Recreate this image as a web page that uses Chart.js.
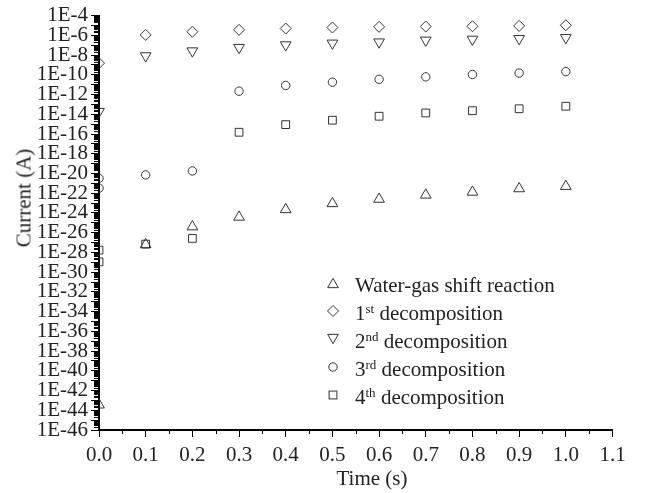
<!DOCTYPE html>
<html>
<head>
<meta charset="utf-8">
<script src="https://cdn.jsdelivr.net/npm/chart.js@4.4.1/dist/chart.umd.min.js"></script>
<style>
  body { margin: 0; background: #fff; }
  #wrap { position: relative; width: 654px; height: 493px; font-family: 'Liberation Serif', 'Times New Roman', serif; color: #222; }
  .axis-title { position: absolute; font-size: 21px; white-space: nowrap; }
  #ytitle { left: 24px; top: 198px; transform: translate(-50%, -50%) rotate(-90deg); }
  #xtitle { left: 372px; top: 478px; transform: translate(-50%, -50%); }
  .legend-row { position: absolute; left: 325px; height: 28px; line-height: 28px; font-size: 21px; white-space: nowrap; }
  .legend-row svg { position: absolute; left: 0; top: 4px; }
  .legend-row span { position: absolute; left: 30px; top: 0; }
  sup { font-size: 13px; line-height: 0; vertical-align: 7px; }
</style>
</head>
<body>
<div id="wrap">
  <canvas id="chart" width="654" height="493"></canvas>
  <div class="axis-title" id="ytitle">Current (A)</div>
  <div class="axis-title" id="xtitle">Time (s)</div>
  <div id="legend"></div>
</div>
<script>
// time axis ticks and labelled current decades
const xTicks = [0, 0.1, 0.2, 0.3, 0.4, 0.5, 0.6, 0.7, 0.8, 0.9, 1.0, 1.1];
const yDecades = [-46, -45, -44, -43, -42, -41, -40, -39, -38, -37, -36, -35, -34, -33, -32, -31, -30, -29, -28, -27, -26, -25,
  -24, -23, -22, -21, -20, -19, -18, -17, -16, -15, -14, -13, -12, -11, -10, -9, -8, -7, -6, -5, -4];

const time = [0, 0.1, 0.2, 0.3, 0.4, 0.5, 0.6, 0.7, 0.8, 0.9, 1.0];
const waterGas = [3.5e-44, 6.2e-28, 4.0e-26, 3.8e-25, 2.2e-24, 8.9e-24, 2.5e-23, 6.6e-23, 1.3e-22, 2.9e-22, 5.0e-22];
const decomp1 = [1.5e-9, 1.1e-6, 2.3e-6, 3.6e-6, 4.9e-6, 6.2e-6, 7.2e-6, 7.8e-6, 8.3e-6, 9.1e-6, 1.05e-5];
const decomp2 = [1.9e-14, 8.3e-9, 2.6e-8, 5.8e-8, 1.07e-7, 1.6e-7, 2.1e-7, 3.2e-7, 4.0e-7, 4.6e-7, 5.8e-7];
const decomp3Time = [0, 0, 0.1, 0.2, 0.3, 0.4, 0.5, 0.6, 0.7, 0.8, 0.9, 1.0];
const decomp3 = [3.2e-21, 3.2e-22, 7.2e-21, 1.8e-20, 2.2e-12, 8.3e-12, 1.8e-11, 3.5e-11, 6.2e-11, 1.07e-10, 1.5e-10, 2.1e-10];
const decomp4Time = [0, 0, 0.1, 0.2, 0.3, 0.4, 0.5, 0.6, 0.7, 0.8, 0.9, 1.0];
const decomp4 = [1.7e-28, 1.1e-29, 6.9e-28, 2.6e-27, 1.5e-16, 8.9e-16, 2.5e-15, 6.3e-15, 1.35e-14, 2.3e-14, 3.6e-14, 6.5e-14];

const legendLabels = [
  'Water-gas shift reaction',
  '1<sup>st</sup> decomposition',
  '2<sup>nd</sup> decomposition',
  '3<sup>rd</sup> decomposition',
  '4<sup>th</sup> decomposition'
];

const markerColor = '#333';

function points(xs, ys) {
  return xs.map((x, i) => ({ x: x, y: ys[i] }));
}

function series(label, xs, ys, style, radius, rotation) {
  return {
    label: label,
    data: points(xs, ys),
    showLine: false,
    pointStyle: style,
    pointRadius: radius,
    pointRotation: rotation || 0,
    pointBorderWidth: 1,
    pointBorderColor: markerColor,
    pointBackgroundColor: 'rgba(0,0,0,0)',
    borderColor: markerColor,
    backgroundColor: 'rgba(0,0,0,0)'
  };
}

// short minor ticks: 2..9 inside each decade, half steps on time
const minorTicks = {
  id: 'minorTicks',
  beforeDatasetsDraw(chart) {
    const { ctx, scales: { x, y } } = chart;
    ctx.save();
    ctx.strokeStyle = '#000';
    ctx.lineWidth = 1;
    ctx.beginPath();
    for (let i = 0; i < yDecades.length - 1; i++) {
      for (let m = 2; m <= 9; m++) {
        const py = Math.round(y.getPixelForValue(m * Number('1e' + yDecades[i]))) + 0.5;
        ctx.moveTo(y.right - 5, py);
        ctx.lineTo(y.right, py);
      }
    }
    for (let i = 0; i < xTicks.length - 1; i++) {
      const px = Math.round(x.getPixelForValue((xTicks[i] + xTicks[i + 1]) / 2)) + 0.5;
      ctx.moveTo(px, x.top);
      ctx.lineTo(px, x.top + 4);
    }
    ctx.stroke();
    ctx.restore();
  }
};

Chart.defaults.font.family = "'Liberation Serif', 'Times New Roman', serif";
Chart.defaults.font.size = 21;
Chart.defaults.color = '#222';

new Chart(document.getElementById('chart'), {
  type: 'scatter',
  data: {
    datasets: [
      series('Water-gas shift reaction', time, waterGas, 'triangle', 6.2),
      series('1st decomposition', time, decomp1, 'rectRot', 5.5),
      series('2nd decomposition', time, decomp2, 'triangle', 6.2, 180),
      series('3rd decomposition', decomp3Time, decomp3, 'circle', 4.2),
      series('4th decomposition', decomp4Time, decomp4, 'rect', 5.5)
    ]
  },
  options: {
    responsive: false,
    animation: false,
    layout: { padding: { top: 13, right: 41.5, left: 0, bottom: 0 } },
    plugins: {
      legend: { display: false },
      tooltip: { enabled: false }
    },
    scales: {
      x: {
        type: 'linear',
        min: 0,
        max: 1.1,
        afterFit: s => { s.height = 63; },
        afterBuildTicks: s => { s.ticks = xTicks.map(v => ({ value: v })); },
        ticks: {
          padding: 6,
          autoSkip: false,
          maxRotation: 0,
          callback: v => Number(v).toFixed(1)
        },
        grid: { drawOnChartArea: false, tickLength: 7, tickColor: '#000', tickWidth: 1 },
        border: { color: '#000', width: 2 }
      },
      y: {
        type: 'logarithmic',
        min: 1e-46,
        max: 1e-4,
        afterFit: s => { s.width = 99; },
        afterBuildTicks: s => { s.ticks = yDecades.map(e => ({ value: Number('1e' + e) })); },
        ticks: {
          padding: 3,
          autoSkip: false,
          callback: v => {
            const e = Math.round(Math.log10(v));
            return e % 2 === 0 ? '1E' + e : '';
          }
        },
        grid: { drawOnChartArea: false, tickLength: 8, tickColor: '#000', tickWidth: 1 },
        border: { color: '#000', width: 2 }
      }
    }
  },
  plugins: [minorTicks]
});

// legend with superscripts, drawn as html
const markerSvg = [
  '<polygon points="8,3.35 13.37,12.65 2.63,12.65"/>',
  '<polygon points="8,2.5 13.5,8 8,13.5 2.5,8"/>',
  '<polygon points="2.63,3.35 13.37,3.35 8,12.65"/>',
  '<circle cx="8" cy="8" r="4.2"/>',
  '<rect x="4.1" y="4.1" width="7.8" height="7.8"/>'
];
const legend = document.getElementById('legend');
legendLabels.forEach((label, i) => {
  const row = document.createElement('div');
  row.className = 'legend-row';
  row.style.top = (271 + i * 28) + 'px';
  row.innerHTML = '<svg width="16" height="16" fill="none" stroke="' + markerColor + '" stroke-width="1">' +
    markerSvg[i] + '</svg><span>' + label + '</span>';
  legend.appendChild(row);
});
</script>
</body>
</html>
